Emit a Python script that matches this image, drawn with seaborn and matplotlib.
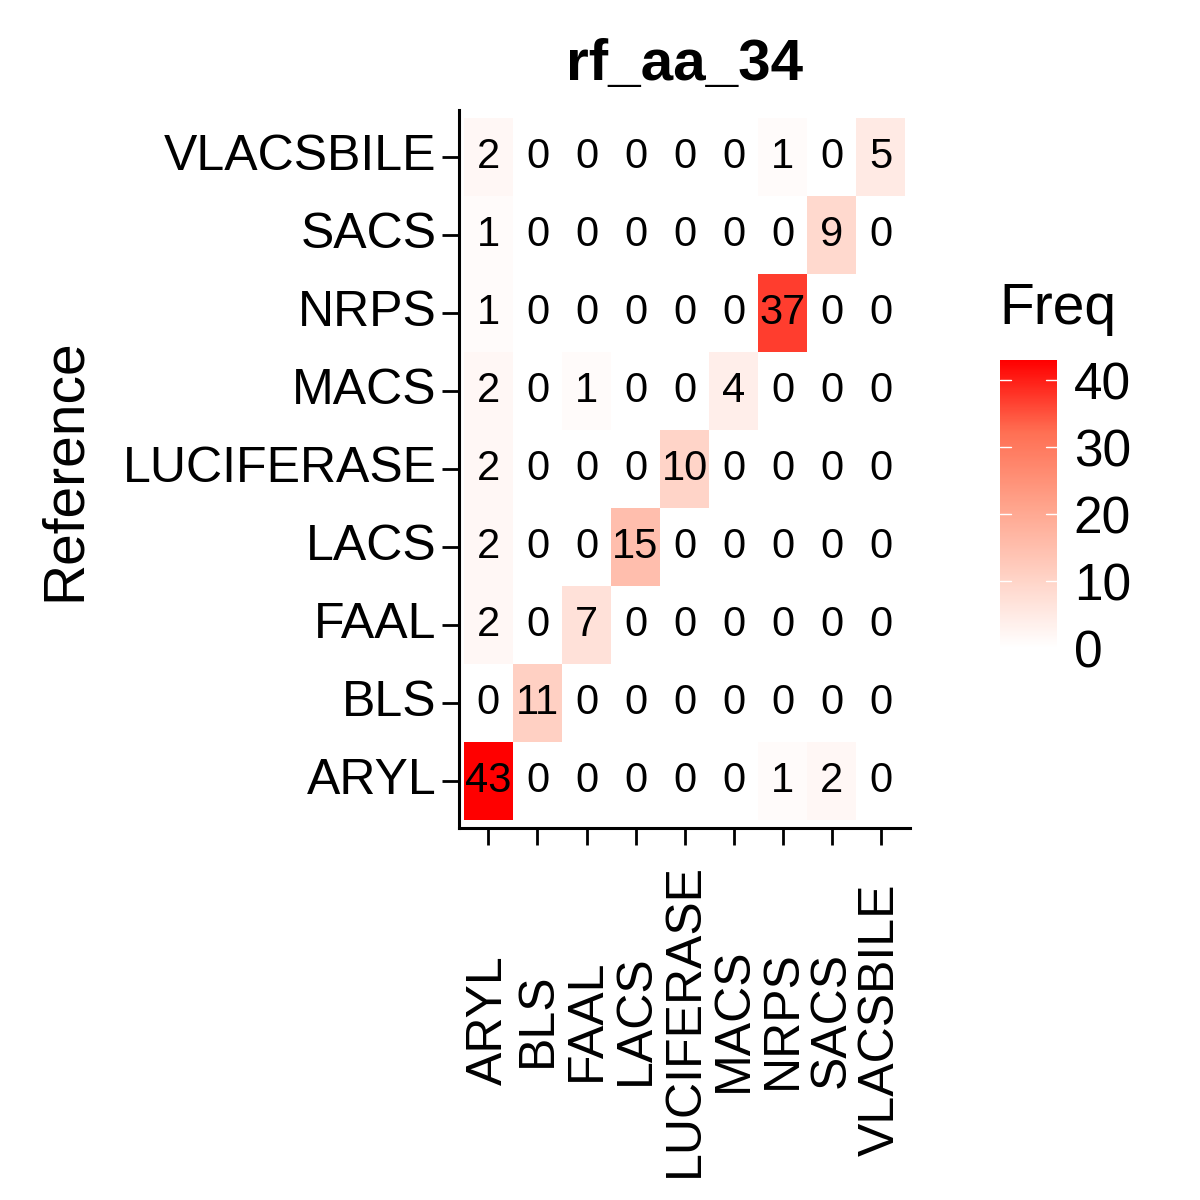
import numpy as np
import pandas as pd
import matplotlib
matplotlib.use("Agg")
import matplotlib.pyplot as plt
import seaborn as sns
from matplotlib.colors import LinearSegmentedColormap

classes = ["ARYL", "BLS", "FAAL", "LACS", "LUCIFERASE", "MACS", "NRPS", "SACS", "VLACSBILE"]
# rows = Reference (top to bottom as drawn), columns = Prediction
rows_top_down = classes[::-1]
freq = [
    [2, 0, 0, 0, 0, 0, 1, 0, 5],
    [1, 0, 0, 0, 0, 0, 0, 9, 0],
    [1, 0, 0, 0, 0, 0, 37, 0, 0],
    [2, 0, 1, 0, 0, 4, 0, 0, 0],
    [2, 0, 0, 0, 10, 0, 0, 0, 0],
    [2, 0, 0, 15, 0, 0, 0, 0, 0],
    [2, 0, 7, 0, 0, 0, 0, 0, 0],
    [0, 11, 0, 0, 0, 0, 0, 0, 0],
    [43, 0, 0, 0, 0, 0, 1, 2, 0],
]

df = pd.DataFrame(freq, index=rows_top_down, columns=classes)

sns.set_style("white")
plt.rcParams["font.family"] = ["Liberation Sans", "DejaVu Sans"]
plt.rcParams["text.color"] = "black"
plt.rcParams["axes.labelcolor"] = "black"

# white -> red, roughly following a Lab-space gradient
cmap = LinearSegmentedColormap.from_list(
    "wr", ["#ffffff", "#ffd1c4", "#ffa28a", "#ff6f53", "#ff0000"])
fig = plt.figure(figsize=(12, 12), dpi=100)
ax = fig.add_axes([0.3825, 0.31, 0.376, 0.598])
cax = fig.add_axes([0.833, 0.46, 0.048, 0.24])

sns.heatmap(df, ax=ax, cbar_ax=cax, cmap=cmap, vmin=0, vmax=43,
            annot=True, fmt="d", annot_kws={"fontsize": 30, "color": "black"})

ax.set_xlim(-0.1, 9.1)
ax.set_ylim(9.1, -0.1)
for s in ["left", "bottom"]:
    ax.spines[s].set_visible(True)
    ax.spines[s].set_linewidth(2.2)
    ax.spines[s].set_color("black")
ax.tick_params(axis="both", length=12, width=2, direction="out", colors="black",
               labelsize=36, left=True, bottom=True, pad=4)
ax.tick_params(axis="x", pad=126)
ax.set_xticklabels(classes, rotation=90, va="center", ha="center")
ax.set_yticklabels(rows_top_down, rotation=0)
ax.set_xlabel("")
ax.set_ylabel("Reference", fontsize=41, labelpad=22)
ax.set_title("rf_aa_34", fontsize=42, fontweight="bold", pad=22)

cax.set_yticks([0, 10, 20, 30, 40])
cax.tick_params(labelsize=37, length=0, pad=12, colors="black")
for t in [10, 20, 30, 40]:
    cax.axhline(t, xmin=0, xmax=0.2, color="white", lw=1)
    cax.axhline(t, xmin=0.8, xmax=1, color="white", lw=1)
cax.set_title("Freq", fontsize=41, loc="left", pad=26)

fig.savefig("out.png", dpi=100)
